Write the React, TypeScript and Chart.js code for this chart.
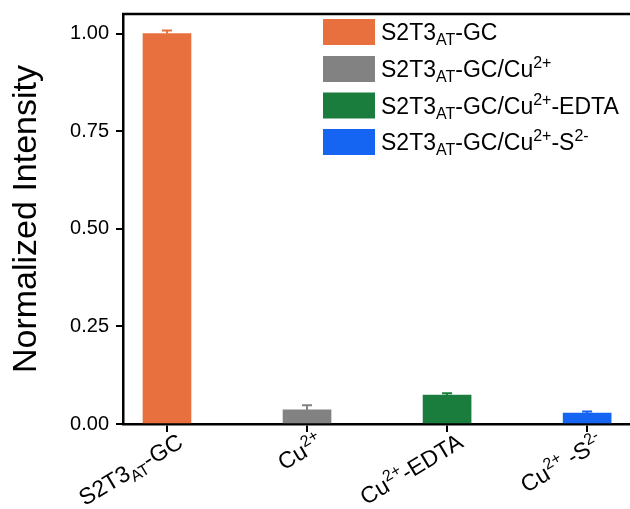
import React, { useEffect, useRef } from "react";
import { Chart, registerables } from "chart.js";

Chart.register(...registerables);

type Seg = { t: string; s?: "sub" | "sup" };

const categoryPositions = [0, 1, 2, 3];
const values = [1.0, 0.036, 0.074, 0.028];
const errors = [0.008, 0.012, 0.005, 0.004];
const colors = ["#E8703F", "#828282", "#1A7D3E", "#1565F2"];
const yTicks = [0, 0.25, 0.5, 0.75, 1.0];

const xTickLabels: Seg[][] = [
  [{ t: "S2T3" }, { t: "AT", s: "sub" }, { t: "-GC" }],
  [{ t: "Cu" }, { t: "2+", s: "sup" }],
  [{ t: "Cu" }, { t: "2+", s: "sup" }, { t: "-EDTA" }],
  [{ t: "Cu" }, { t: "2+", s: "sup" }, { t: " -S" }, { t: "2-", s: "sup" }],
];

const legendLabels: Seg[][] = [
  [{ t: "S2T3" }, { t: "AT", s: "sub" }, { t: "-GC" }],
  [{ t: "S2T3" }, { t: "AT", s: "sub" }, { t: "-GC/Cu" }, { t: "2+", s: "sup" }],
  [{ t: "S2T3" }, { t: "AT", s: "sub" }, { t: "-GC/Cu" }, { t: "2+", s: "sup" }, { t: "-EDTA" }],
  [{ t: "S2T3" }, { t: "AT", s: "sub" }, { t: "-GC/Cu" }, { t: "2+", s: "sup" }, { t: "-S" }, { t: "2-", s: "sup" }],
];

const FONT = '"Liberation Sans", Arial, Helvetica, sans-serif';

function segFont(seg: Seg, F: number) {
  const size = seg.s ? Math.round(F * 0.68) : F;
  return `${size}px ${FONT}`;
}

function measureRich(ctx: CanvasRenderingContext2D, segs: Seg[], F: number) {
  let w = 0;
  for (const seg of segs) {
    ctx.font = segFont(seg, F);
    w += ctx.measureText(seg.t).width;
  }
  return w;
}

function drawRich(ctx: CanvasRenderingContext2D, segs: Seg[], x: number, y: number, F: number) {
  let cx = x;
  ctx.textAlign = "left";
  ctx.textBaseline = "alphabetic";
  for (const seg of segs) {
    ctx.font = segFont(seg, F);
    let dy = 0;
    if (seg.s === "sup") dy = -0.4 * F;
    if (seg.s === "sub") dy = 0.22 * F;
    ctx.fillText(seg.t, cx, y + dy);
    cx += ctx.measureText(seg.t).width;
  }
}

const errorBarPlugin = {
  id: "errorBars",
  afterDatasetsDraw(chart: any) {
    const ctx = chart.ctx as CanvasRenderingContext2D;
    const yScale = chart.scales.y;
    ctx.save();
    chart.data.datasets.forEach((ds: any, i: number) => {
      const meta = chart.getDatasetMeta(i);
      meta.data.forEach((el: any, j: number) => {
        const v = ds.data[j].y;
        const e = ds.errors[j];
        const yTop = yScale.getPixelForValue(v);
        const yErr = yScale.getPixelForValue(v + e);
        ctx.strokeStyle = ds.backgroundColor;
        ctx.lineWidth = 2;
        ctx.beginPath();
        ctx.moveTo(el.x, yTop);
        ctx.lineTo(el.x, yErr);
        ctx.moveTo(el.x - 5, yErr);
        ctx.lineTo(el.x + 5, yErr);
        ctx.stroke();
      });
    });
    ctx.restore();
  },
};

const decorPlugin = {
  id: "decor",
  afterDraw(chart: any) {
    const ctx = chart.ctx as CanvasRenderingContext2D;
    const area = chart.chartArea;
    const xScale = chart.scales.x;
    ctx.save();
    ctx.strokeStyle = "#000";
    ctx.lineWidth = 2.5;
    ctx.beginPath();
    ctx.moveTo(area.left - 1, area.top);
    ctx.lineTo(area.right, area.top);
    ctx.stroke();

    ctx.fillStyle = "#000";
    const F = 23;
    const ang = (31 * Math.PI) / 180;
    categoryPositions.forEach((pos, i) => {
      const px = xScale.getPixelForValue(pos);
      const segs = xTickLabels[i];
      const w = measureRich(ctx, segs, F);
      ctx.save();
      ctx.translate(px + 9, area.bottom + 8);
      ctx.rotate(-ang);
      drawRich(ctx, segs, -w, F * 0.72, F);
      ctx.restore();
    });

    const LF = 23;
    const boxX = 323;
    const boxW = 52;
    const boxH = 26;
    const rowY = [19, 56, 92.5, 129];
    legendLabels.forEach((segs, i) => {
      ctx.fillStyle = colors[i];
      ctx.fillRect(boxX, rowY[i], boxW, boxH);
      ctx.fillStyle = "#000";
      drawRich(ctx, segs, 381, rowY[i] + boxH / 2 + LF * 0.36, LF);
    });
    ctx.restore();
  },
};

export default function App() {
  const ref = useRef<HTMLCanvasElement | null>(null);

  useEffect(() => {
    document.body.style.margin = "0";
    if (!ref.current) return;
    const datasets = categoryPositions.map((pos, i) => ({
      label: xTickLabels[i].map((s) => s.t).join(""),
      data: [{ x: pos, y: values[i] }],
      errors: [errors[i]],
      backgroundColor: colors[i],
      borderWidth: 0,
      barThickness: 48,
      grouped: false,
    }));
    const chart = new Chart(ref.current, {
      type: "bar",
      data: { datasets: datasets as any },
      options: {
        animation: false,
        responsive: false,
        layout: { padding: { top: 14, right: 0, left: 0, bottom: 0 } },
        plugins: {
          legend: { display: false },
          tooltip: { enabled: false },
        },
        scales: {
          x: {
            type: "linear",
            offset: false,
            min: -0.314,
            max: (630 - 167) / 140 - 0.001,
            afterFit: (s: any) => {
              s.height = 85;
              s.paddingLeft = 0;
              s.paddingRight = 0;
            },
            afterBuildTicks: (s: any) => {
              s.ticks = categoryPositions.map((v) => ({ value: v }));
            },
            ticks: { display: false },
            grid: {
              display: true,
              offset: false,
              drawOnChartArea: false,
              drawTicks: true,
              tickLength: 8,
              color: "#000",
              lineWidth: 2,
            },
            border: { display: true, color: "#000", width: 2.5 },
          },
          y: {
            min: 0,
            max: 1.05,
            afterFit: (s: any) => {
              s.width = 123;
              s.paddingTop = 0;
              s.paddingBottom = 0;
            },
            afterBuildTicks: (s: any) => {
              s.ticks = yTicks.map((v) => ({ value: v }));
            },
            ticks: {
              color: "#000",
              font: { size: 20, family: FONT },
              padding: 7,
              callback: (v: any) => Number(v).toFixed(2),
            },
            grid: {
              display: true,
              drawOnChartArea: false,
              drawTicks: true,
              tickLength: 7,
              color: "#000",
              lineWidth: 2,
            },
            border: { display: true, color: "#000", width: 2.5 },
            title: {
              display: true,
              text: "Normalized Intensity",
              color: "#000",
              font: { size: 34, family: FONT },
              padding: { top: 6, bottom: 0 },
            },
          },
        },
      },
      plugins: [errorBarPlugin, decorPlugin],
    });
    return () => chart.destroy();
  }, []);

  return (
    <div style={{ width: 630, height: 509 }}>
      <canvas ref={ref} width={630} height={509} style={{ display: "block" }} />
    </div>
  );
}
